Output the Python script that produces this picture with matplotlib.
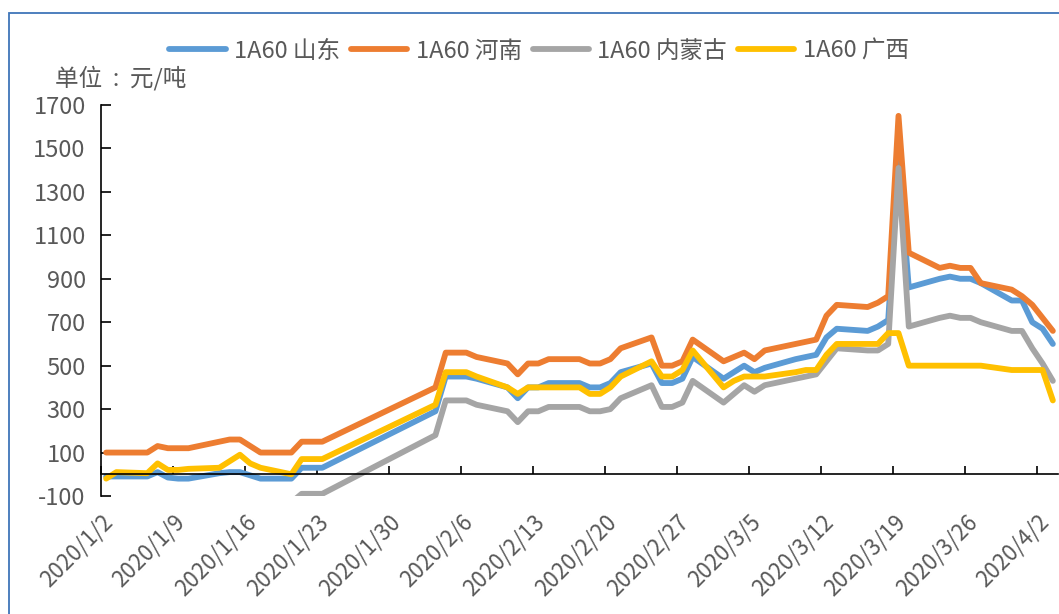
import numpy as np
import pandas as pd
import matplotlib
matplotlib.use("Agg")
import matplotlib.pyplot as plt
from matplotlib.patches import Rectangle

plt.rcParams["font.family"] = ["Noto Sans CJK SC", "DejaVu Sans"]
plt.rcParams["axes.unicode_minus"] = False

# weekday dates (Spring Festival break has no data)
dates = [
    "2020/1/2", "2020/1/3", "2020/1/6", "2020/1/7", "2020/1/8", "2020/1/9", "2020/1/10",
    "2020/1/13", "2020/1/14", "2020/1/15", "2020/1/16", "2020/1/17", "2020/1/20",
    "2020/1/21", "2020/1/22", "2020/1/23",
    "2020/2/3", "2020/2/4", "2020/2/5", "2020/2/6", "2020/2/7", "2020/2/10", "2020/2/11",
    "2020/2/12", "2020/2/13", "2020/2/14", "2020/2/17", "2020/2/18", "2020/2/19",
    "2020/2/20", "2020/2/21", "2020/2/24", "2020/2/25", "2020/2/26", "2020/2/27", "2020/2/28",
    "2020/3/2", "2020/3/3", "2020/3/4", "2020/3/5", "2020/3/6", "2020/3/9", "2020/3/10",
    "2020/3/11", "2020/3/12", "2020/3/13", "2020/3/16", "2020/3/17", "2020/3/18",
    "2020/3/19", "2020/3/20", "2020/3/23", "2020/3/24", "2020/3/25", "2020/3/26",
    "2020/3/27", "2020/3/30", "2020/3/31",
    "2020/4/1", "2020/4/2", "2020/4/3",
]

shandong = [
    -10, -10, -10, 10, -15, -20, -20, 5, 10, 10, -5, -20, -20, 30, 30, 30,
    290, 450, 450, 450, 440, 400, 350, 400, 400, 420, 420, 400, 400, 420, 470,
    510, 420, 420, 440, 540,
    440, 470, 500, 470, 490, 530, 540, 550, 630, 670, 660, 680, 710, 1450, 860,
    900, 910, 900, 900, 880, 800, 800,
    700, 670, 600,
]
henan = [
    100, 100, 100, 130, 120, 120, 120, 150, 160, 160, 130, 100, 100, 150, 150, 150,
    400, 560, 560, 560, 540, 510, 460, 510, 510, 530, 530, 510, 510, 530, 580,
    630, 500, 500, 520, 620,
    520, 540, 560, 530, 570, 600, 610, 620, 730, 780, 770, 790, 820, 1650, 1020,
    950, 960, 950, 950, 880, 850, 820,
    780, 720, 660,
]
neimenggu = [
    -130, -130, -130, -130, -130, -130, -130, -130, -130, -130, -130, -130, -130,
    -90, -90, -90,
    180, 340, 340, 340, 320, 290, 240, 290, 290, 310, 310, 290, 290, 300, 350,
    410, 310, 310, 330, 430,
    330, 370, 410, 380, 410, 440, 450, 460, 520, 580, 570, 570, 600, 1410, 680,
    720, 730, 720, 720, 700, 660, 660,
    580, 510, 430,
]
guangxi = [
    -20, 10, 5, 50, 20, 20, 25, 30, 60, 90, 50, 30, 0, 70, 70, 70,
    320, 470, 470, 470, 450, 400, 370, 400, 400, 400, 400, 370, 370, 400, 450,
    520, 450, 450, 480, 570,
    400, 430, 450, 450, 450, 470, 480, 480, 550, 600, 600, 600, 650, 650, 500,
    500, 500, 500, 500, 500, 480, 480,
    480, 480, 340,
]

series_names = ["1A60 山东", "1A60 河南", "1A60 内蒙古", "1A60 广西"]
colors = ["#5B9BD5", "#ED7D31", "#A5A5A5", "#FFC000"]

tick_labels = [
    "2020/1/2", "2020/1/9", "2020/1/16", "2020/1/23", "2020/1/30", "2020/2/6",
    "2020/2/13", "2020/2/20", "2020/2/27", "2020/3/5", "2020/3/12", "2020/3/19",
    "2020/3/26", "2020/4/2",
]
y_ticks = list(range(-100, 1701, 200))

start = pd.Timestamp("2020-01-02")
x = (pd.to_datetime(dates, format="%Y/%m/%d") - start).days.to_numpy()
tick_x = (pd.to_datetime(tick_labels, format="%Y/%m/%d") - start).days.to_numpy()

text_grey = "#595959"

fig = plt.figure(figsize=(10.59, 6.14), dpi=100)
ax = fig.add_axes([101 / 1059, 118 / 614, 957 / 1059, 391 / 614])

for values, name, color in zip([shandong, henan, neimenggu, guangxi], series_names, colors):
    ax.plot(x, values, color=color, linewidth=4.2, label=name,
            solid_joinstyle="round", solid_capstyle="round")

# spine position first: moving it resets the ticks
for side in ["top", "right"]:
    ax.spines[side].set_visible(False)
ax.spines["bottom"].set_position(("data", 0))
for side in ["bottom", "left"]:
    ax.spines[side].set_color("black")
    ax.spines[side].set_linewidth(1.2)

ax.set_xlim(-0.5, x[-1] + 0.5)
ax.set_ylim(-100, 1700)
ax.set_yticks(y_ticks)
ax.set_xticks(tick_x - 0.5)
ax.set_xticklabels(tick_labels)

ax.tick_params(axis="x", direction="in", length=6, width=1.2, pad=26,
               labelsize=16, labelcolor=text_grey)
ax.tick_params(axis="y", direction="in", length=7, width=1.2, pad=11,
               labelsize=17, labelcolor=text_grey)
plt.setp(ax.get_xticklabels(), rotation=45, ha="right", va="top",
         rotation_mode="anchor")

fig.legend(loc="center", bbox_to_anchor=(539 / 1059, 1 - 51 / 614), ncol=4,
           frameon=False, handlelength=2.4, handletextpad=0.35, columnspacing=0.45,
           fontsize=17, labelcolor=text_grey)

fig.text(55 / 1059, 1 - 78 / 614, "单位  :  元/吨", fontsize=17, color=text_grey,
         ha="left", va="center")

fig.patches.append(Rectangle((9 / 1059, -0.1), 1.2, (614 - 13) / 614 + 0.1,
                             transform=fig.transFigure, fill=False,
                             edgecolor="#3F75B9", linewidth=1.3))

fig.savefig("out.png", dpi=100)
